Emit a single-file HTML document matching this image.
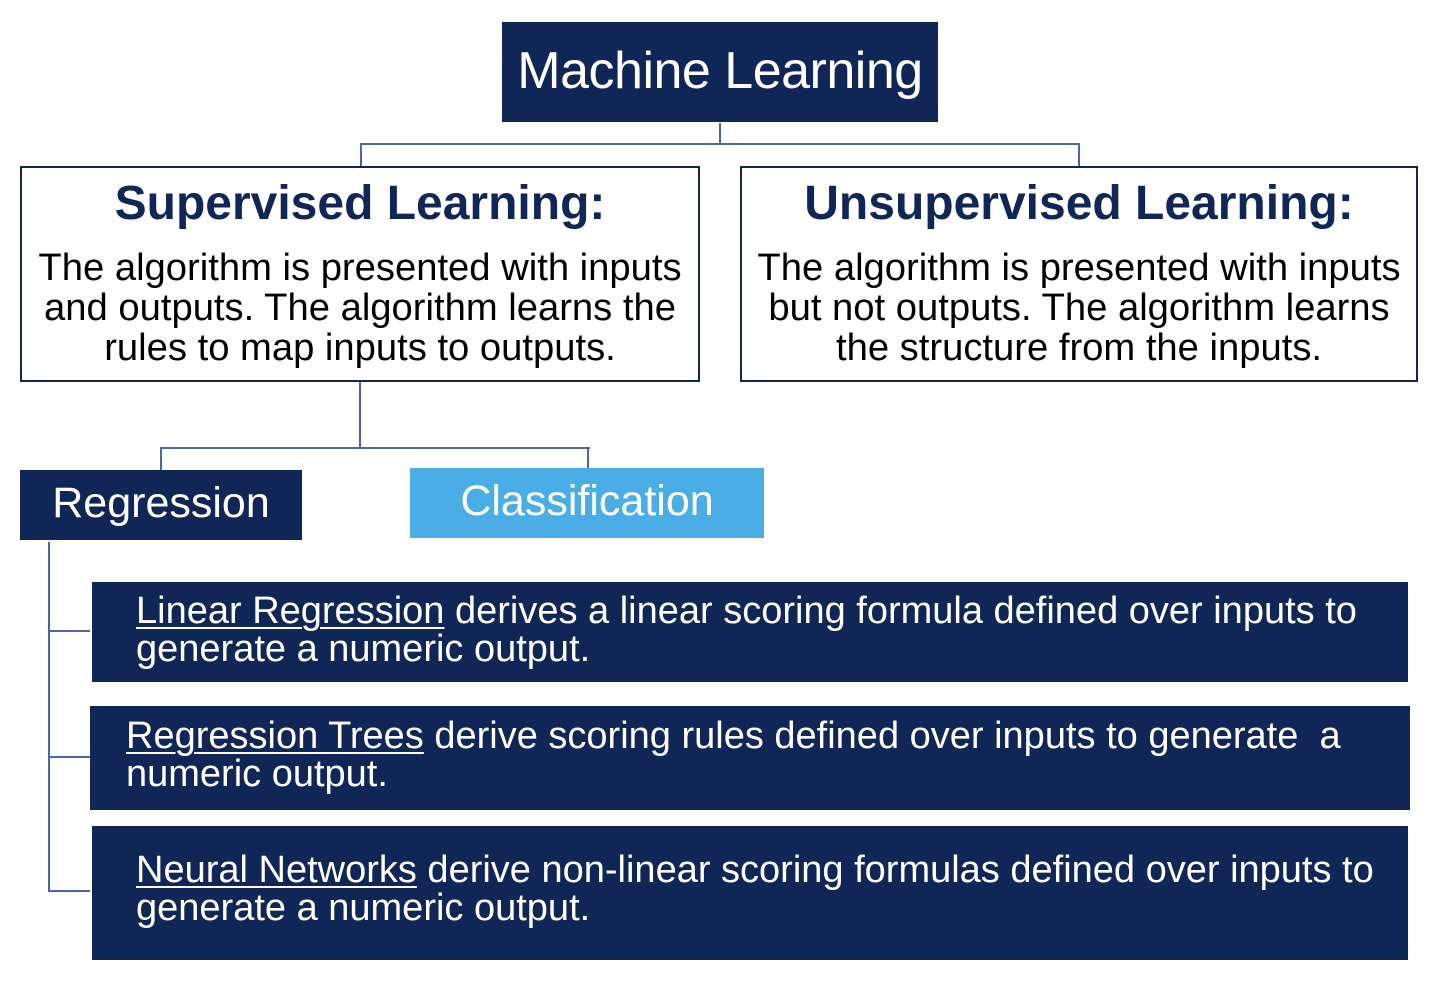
<!DOCTYPE html>
<html><head><meta charset="utf-8"><style>
body{margin:0;width:1444px;height:998px;background:#fff;position:relative;overflow:hidden;font-family:"Liberation Sans",Arial,sans-serif}
div{position:absolute;box-sizing:border-box}
.l{background:#4a67ab}
.navy{background:#0f2656;color:#fff}
.ob{border:2px solid #0f2656;background:#fff;text-align:center;color:#000}
.ob h1{margin:9px 0 17px;font-size:48px;font-weight:bold;color:#0f2656;line-height:54px}
.ob p{margin:0;font-size:38.2px;line-height:40px;white-space:nowrap}
.t{font-size:38px;line-height:38px;white-space:nowrap}
u{text-decoration-thickness:2px;text-underline-offset:4px}
</style></head><body>
<div class="navy" style="left:502px;top:22px;width:436px;height:100px;text-align:center;font-size:52px;line-height:98px;letter-spacing:-0.5px">Machine Learning</div>
<div class="l" style="left:719px;top:123px;width:2px;height:22px"></div>
<div class="l" style="left:360px;top:143px;width:720px;height:2px"></div>
<div class="l" style="left:360px;top:143px;width:2px;height:24px"></div>
<div class="l" style="left:1078px;top:143px;width:2px;height:24px"></div>
<div class="ob" style="left:20px;top:166px;width:680px;height:216px"><h1>Supervised Learning:</h1><p>The algorithm is presented with inputs<br>and outputs. The algorithm learns the<br>rules to map inputs to outputs.</p></div>
<div class="ob" style="left:740px;top:166px;width:678px;height:216px"><h1>Unsupervised Learning:</h1><p>The algorithm is presented with inputs<br>but not outputs. The algorithm learns<br>the structure from the inputs.</p></div>
<div class="l" style="left:359px;top:382px;width:2px;height:67px"></div>
<div class="l" style="left:160px;top:447px;width:430px;height:2px"></div>
<div class="l" style="left:160px;top:447px;width:2px;height:23px"></div>
<div class="l" style="left:587px;top:447px;width:2px;height:21px"></div>
<div class="navy" style="left:20px;top:470px;width:282px;height:70px;text-align:center;font-size:43px;line-height:66px">Regression</div>
<div style="left:410px;top:468px;width:354px;height:70px;background:#4aade6;color:#fff;text-align:center;font-size:43px;line-height:66px">Classification</div>
<div class="l" style="left:48px;top:542px;width:2px;height:350px"></div>
<div class="l" style="left:48px;top:630px;width:42px;height:2px"></div>
<div class="l" style="left:48px;top:756px;width:42px;height:2px"></div>
<div class="l" style="left:48px;top:890px;width:42px;height:2px"></div>
<div class="navy" style="left:92px;top:582px;width:1316px;height:100px"><div class="t" style="left:44px;top:10px"><u>Linear Regression</u> derives a linear scoring formula defined over inputs to<br>generate a numeric output.</div></div>
<div class="navy" style="left:90px;top:706px;width:1320px;height:104px"><div class="t" style="left:36px;top:11px"><u>Regression Trees</u> derive scoring rules defined over inputs to generate &nbsp;a<br>numeric output.</div></div>
<div class="navy" style="left:92px;top:826px;width:1316px;height:134px"><div class="t" style="left:44px;top:25px"><u>Neural Networks</u> derive non-linear scoring formulas defined over inputs to<br>generate a numeric output.</div></div>
</body></html>
